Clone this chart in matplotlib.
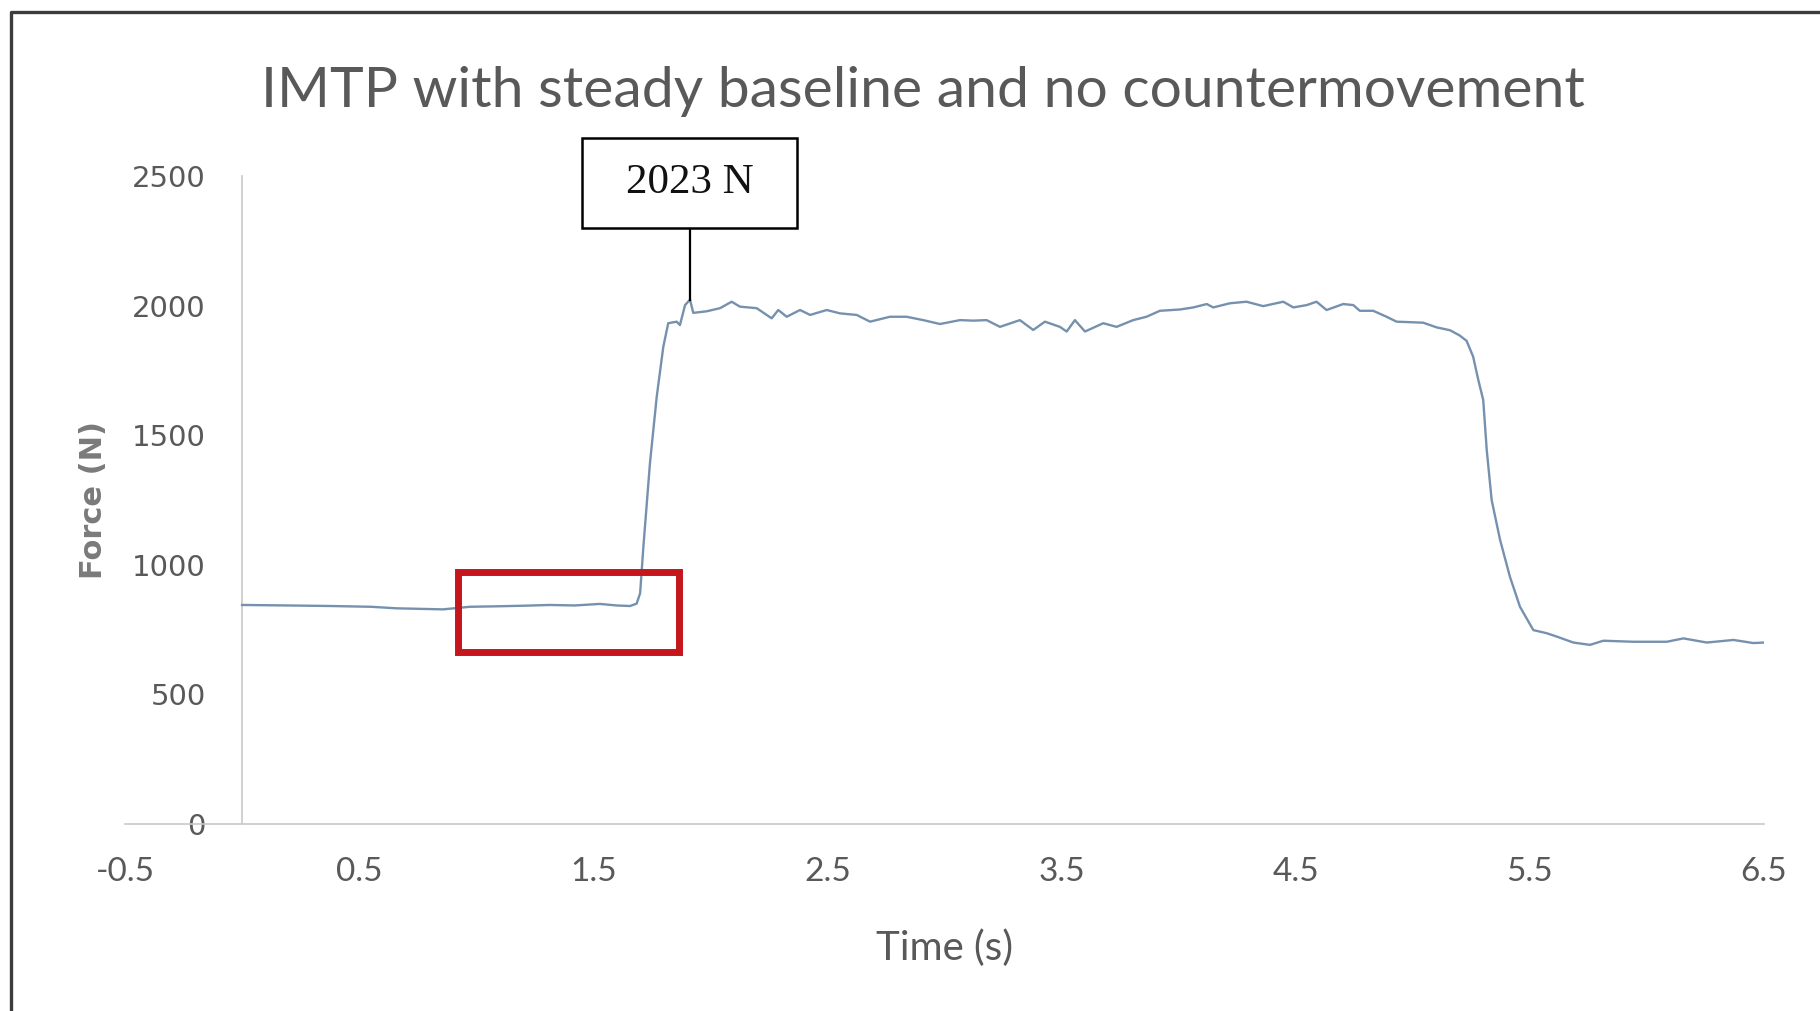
import matplotlib
matplotlib.use('Agg')
import matplotlib.pyplot as plt
from matplotlib.patches import Rectangle
from matplotlib.lines import Line2D

# force trace
time_s = [0.00, 0.20, 0.375, 0.55, 0.66, 0.76, 0.858, 0.973, 1.10, 1.20,
          1.315, 1.42, 1.528, 1.60, 1.657, 1.685, 1.700, 1.714, 1.742, 1.771,
          1.799, 1.820, 1.856, 1.870, 1.892, 1.913, 1.927, 1.984, 2.041, 2.091,
          2.126, 2.198, 2.262, 2.290, 2.326, 2.383, 2.426, 2.497, 2.554, 2.625,
          2.682, 2.767, 2.838, 2.909, 2.981, 3.066, 3.123, 3.180, 3.237, 3.322,
          3.379, 3.429, 3.493, 3.522, 3.557, 3.600, 3.678, 3.735, 3.806, 3.863,
          3.920, 4.006, 4.063, 4.120, 4.148, 4.219, 4.290, 4.361, 4.447, 4.490,
          4.547, 4.589, 4.632, 4.703, 4.746, 4.774, 4.831, 4.888, 4.931, 4.990,
          5.045, 5.102, 5.159, 5.200, 5.230, 5.258, 5.280, 5.301, 5.316, 5.337,
          5.373, 5.415, 5.458, 5.515, 5.572, 5.615, 5.686, 5.757, 5.814, 5.942,
          6.085, 6.156, 6.256, 6.370, 6.455, 6.500]
force_n = [845, 843, 841, 838, 832, 830, 828, 838, 840, 842,
           845, 843, 849, 843, 841, 850, 890, 1070, 1392, 1649,
           1841, 1932, 1938, 1925, 2002, 2023, 1972, 1978, 1990, 2015,
           1996, 1990, 1951, 1983, 1957, 1983, 1964, 1983, 1970, 1964,
           1938, 1957, 1957, 1944, 1929, 1944, 1942, 1944, 1918, 1944,
           1906, 1938, 1918, 1900, 1944, 1900, 1932, 1918, 1944, 1957,
           1980, 1985, 1993, 2006, 1993, 2009, 2015, 1998, 2015, 1993,
           2002, 2015, 1983, 2006, 2002, 1980, 1980, 1957, 1938, 1936,
           1934, 1916, 1905, 1885, 1864, 1803, 1713, 1636, 1443, 1250,
           1096, 954, 838, 748, 736, 723, 700, 691, 707, 703,
           703, 716, 700, 710, 698, 700]

x_ticks = [-0.5, 0.5, 1.5, 2.5, 3.5, 4.5, 5.5, 6.5]
y_ticks = [0, 500, 1000, 1500, 2000, 2500]

title = 'IMTP with steady baseline and no countermovement'
peak_label = '2023 N'

# highlighted baseline window and label box (data units)
window_t = (0.924, 1.866)
window_f = (662, 971)
box_t = (1.450, 2.372)
box_f = (2301, 2646)

sans = ['Lato', 'DejaVu Sans']
grey = '#595959'

fig = plt.figure(figsize=(18.2, 10.11), dpi=100)
ax = fig.add_axes([0.0687, 0.1850, 0.9005, 0.6409])

# move the y axis line to t = 0 first: it resets the ticks
for side in ['top', 'right']:
    ax.spines[side].set_visible(False)
ax.spines['left'].set_position(('data', 0))
for side in ['left', 'bottom']:
    ax.spines[side].set_color('#c8c8c8')
    ax.spines[side].set_linewidth(1.2)

ax.plot(time_s, force_n, color='#7591ae', lw=1.7, zorder=3)

ax.set_xlim(-0.5, 6.5)
ax.set_ylim(0, 2500)
ax.set_xticks(x_ticks)
ax.set_xticklabels([f'{v:g}' for v in x_ticks], family=sans, fontsize=24, color=grey)
ax.set_yticks(y_ticks)
ax.set_yticklabels([str(v) for v in y_ticks], family='DejaVu Sans', fontsize=21, color=grey)
ax.tick_params(axis='x', length=0, pad=24)
ax.tick_params(axis='y', length=0, pad=26)

ax.set_xlabel('Time (s)', family=sans, fontsize=29, color=grey, labelpad=30)
ax.text(-0.0195, 0.5, 'Force (N)', transform=ax.transAxes, rotation=90,
        ha='center', va='center', family='DejaVu Sans', fontweight='bold',
        fontsize=22, color='#7a7a7a')

fig.text(0.507, 0.894, title, ha='center', va='baseline',
         family=sans, fontsize=41, color=grey)

# red window
ax.add_patch(Rectangle((window_t[0], window_f[0]), window_t[1] - window_t[0],
                       window_f[1] - window_f[0], fill=False,
                       edgecolor='#c4161c', lw=5, zorder=4))

# peak callout
i_peak = force_n.index(max(force_n))
peak_t = time_s[i_peak]
peak_f = force_n[i_peak]
ax.add_patch(Rectangle((box_t[0], box_f[0]), box_t[1] - box_t[0],
                       box_f[1] - box_f[0], facecolor='white',
                       edgecolor='black', lw=1.8, clip_on=False, zorder=5))
ax.text((box_t[0] + box_t[1]) / 2, (box_f[0] + box_f[1]) / 2, peak_label,
        ha='center', va='center', family='Liberation Serif', fontsize=31,
        color='#111111', zorder=6, clip_on=False)
ax.plot([peak_t, peak_t], [box_f[0], peak_f], color='black', lw=1.6,
        zorder=4, clip_on=False)

# chart frame, cut at right and bottom
fig.add_artist(Line2D([0.0063, 0.0063, 1.0], [0.0, 0.9885, 0.9885],
                      transform=fig.transFigure, color='#3c3c3c', lw=2.4))

fig.savefig('out.png', dpi=100, facecolor='white')
